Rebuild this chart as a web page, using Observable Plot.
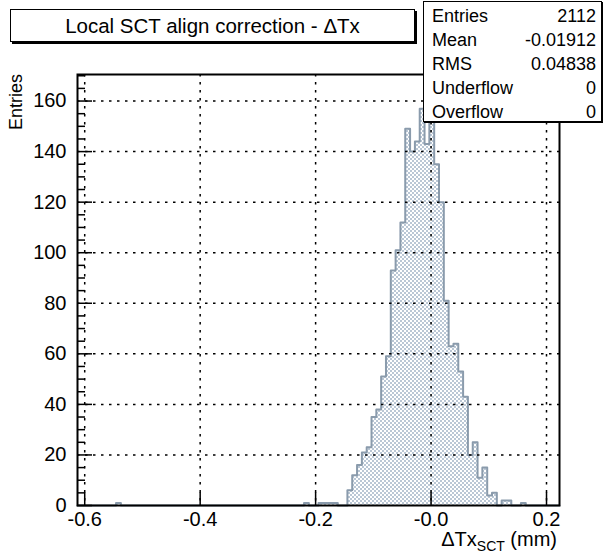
<!DOCTYPE html>
<html>
<head>
<meta charset="utf-8">
<script src="https://cdn.jsdelivr.net/npm/d3@7"></script>
<script src="https://cdn.jsdelivr.net/npm/@observablehq/plot@0.6"></script>
<style>
  html, body { margin: 0; padding: 0; background: #fff; }
  body { font-family: "Liberation Sans", Arial, Helvetica, sans-serif; color: #000; }
  #wrap { position: relative; width: 607px; height: 558px; overflow: hidden; }
  .box { position: absolute; background: #fff; border: 1px solid #000; box-sizing: border-box; }
  #title { left: 10px; top: 9px; width: 405px; height: 33px; box-shadow: 2px 2px 0 #000;
           font-size: 20.5px; line-height: 31px; text-align: center; }
  #stats { left: 423px; top: 1px; width: 179px; height: 121px; box-shadow: 1px 1px 0 #000;
           font-size: 18px; padding: 2px 5px 0 8px; }
  #stats .row { display: flex; justify-content: space-between; height: 24px; line-height: 24px; }
  #xtitle { position: absolute; right: 50px; top: 528px; font-size: 20px; white-space: nowrap; }
  #xtitle sub { font-size: 14px; vertical-align: -5px; }
  #ytitle { position: absolute; left: 27px; top: 74px; font-size: 18px; white-space: nowrap;
            transform-origin: 0 0; transform: rotate(-90deg) translate(-100%, -100%); }
</style>
</head>
<body>
<div id="wrap">
  <div id="plot"></div>
  <div id="title" class="box">Local SCT align correction - ΔTx</div>
  <div id="stats" class="box"></div>
  <div id="xtitle">ΔTx<sub>SCT</sub> (mm)</div>
  <div id="ytitle">Entries</div>
</div>
<script>
// ---- histogram definition (100 bins) ----
const xMin = -0.6125;
const xMax = 0.2225;
const counts = [
  0,0,0,0,0,0,0,0,1,0,
  0,0,0,0,0,0,0,0,0,0,
  0,0,0,0,0,0,0,0,0,0,
  0,0,0,0,0,0,0,0,0,0,
  0,0,0,0,0,0,0,1,0,0,
  1,1,1,1,0,0,6,12,16,21,
  23,35,38,51,59,93,101,112,149,140,
  144,157,143,162,135,120,81,63,64,53,
  43,20,25,11,15,4,5,0,2,2,
  0,0,1,0,0,0,0,0,0,0
];
const yMax = 170.5;

// ---- axes ----
const xTicks = [-0.6, -0.4, -0.2, 0, 0.2];
const xTickLabels = ["-0.6", "-0.4", "-0.2", "-0.0", "0.2"];
const yTicks = [0, 20, 40, 60, 80, 100, 120, 140, 160];
const yMinorTicks = [5,10,15,25,30,35,45,50,55,65,70,75,85,90,95,105,110,115,125,130,135,145,150,155,165,170];

// ---- stats box ----
const statNames = ["Entries", "Mean", "RMS", "Underflow", "Overflow"];
const statValues = ["2112", "-0.01912", "0.04838", "0", "0"];

const stats = document.getElementById("stats");
statNames.forEach((n, i) => {
  const r = document.createElement("div");
  r.className = "row";
  r.innerHTML = `<span>${n}</span><span>${statValues[i]}</span>`;
  stats.appendChild(r);
});

// outline points of the histogram (step)
const nBins = counts.length;
const binW = (xMax - xMin) / nBins;
const outline = [{x: xMin, y: 0}];
counts.forEach((c, i) => {
  outline.push({x: xMin + i * binW, y: c});
  outline.push({x: xMin + (i + 1) * binW, y: c});
});
outline.push({x: xMax, y: 0});

const W = 607, H = 558;
const mL = 77, mR = 48, mT = 74, mB = 53;
const innerW = W - mL - mR, innerH = H - mT - mB;

const svg = Plot.plot({
  width: W, height: H,
  marginLeft: mL, marginRight: mR, marginTop: mT, marginBottom: mB,
  style: {fontFamily: "'Liberation Sans', Arial, sans-serif", fontSize: "20px", background: "transparent", color: "#000"},
  x: {domain: [xMin, xMax]},
  y: {domain: [0, yMax]},
  marks: [
    Plot.areaY(outline, {x: "x", y1: 0, y2: "y", fill: "url(#chk)", curve: "linear"}),
    Plot.line(outline, {x: "x", y: "y", stroke: "#8a9bac", strokeWidth: 2, curve: "linear"}),
    Plot.gridX(xTicks, {stroke: "#000", strokeOpacity: 1, strokeWidth: 1.5, strokeDasharray: "2.5,5.5"}),
    Plot.gridY(yTicks.slice(1), {stroke: "#000", strokeOpacity: 1, strokeWidth: 1.5, strokeDasharray: "2.5,5.5"}),
    Plot.tickX(xTicks, {x: d => d, stroke: "#000", strokeWidth: 1.5, insetTop: innerH - 13}),
    Plot.tickY(yTicks, {y: d => d, stroke: "#000", strokeWidth: 1.5, insetRight: innerW - 15}),
    Plot.tickY(yMinorTicks, {y: d => d, stroke: "#000", strokeWidth: 1.5, insetRight: innerW - 8}),
    Plot.axisX({ticks: xTicks, tickSize: 0, tickPadding: 6, label: null, tickFormat: d => xTickLabels[xTicks.indexOf(d)], fontSize: 20}),
    Plot.axisY({ticks: yTicks, tickSize: 0, tickPadding: 11, label: null, fontSize: 20}),
    Plot.frame({stroke: "#000", strokeWidth: 2})
  ]
});

const ns = "http://www.w3.org/2000/svg";
const defs = document.createElementNS(ns, "defs");
defs.innerHTML = `<pattern id="chk" width="4" height="4" patternUnits="userSpaceOnUse">
  <rect width="4" height="4" fill="#ffffff"/>
  <rect width="2" height="2" fill="#bac7d5"/>
  <rect x="2" y="2" width="2" height="2" fill="#bac7d5"/>
</pattern>`;
svg.insertBefore(defs, svg.firstChild);
document.getElementById("plot").appendChild(svg);
</script>
</body>
</html>
